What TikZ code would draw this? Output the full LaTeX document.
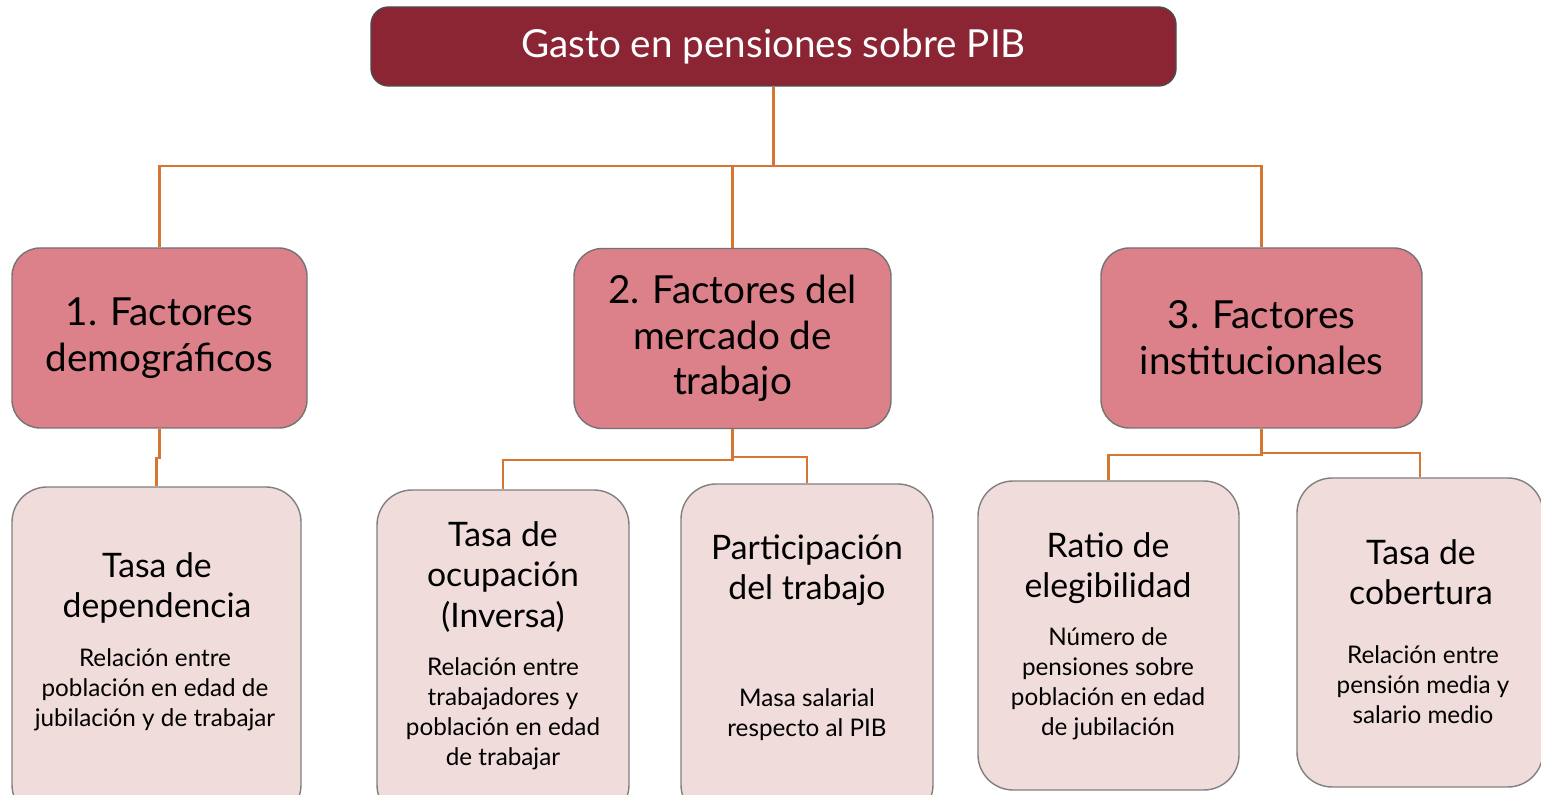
\documentclass[tikz,border=0pt]{standalone}
\usepackage{fontspec}
\setmainfont{Lato}
\usepackage{tikz}
\usepackage{xcolor}
\usetikzlibrary{positioning,calc}

\definecolor{granate}{RGB}{139,37,52}
\definecolor{rosa}{RGB}{220,129,137}
\definecolor{rosaclaro}{RGB}{240,220,218}
\definecolor{naranja}{RGB}{215,118,50}

\begin{document}
\begin{tikzpicture}[
    topbox/.style={rectangle, draw=black!70, fill=granate, text=white, rounded corners=5pt, minimum width=8.05cm, minimum height=0.79cm, font=\fontsize{11}{13}\selectfont},
    factor/.style={rectangle, draw=black!55, fill=rosa, rounded corners=8pt, minimum height=1.8cm, align=center, font=\fontsize{11}{13}\selectfont},
    detalle/.style={rectangle, draw=black!50, fill=rosaclaro, rounded corners=10pt},
    titulo/.style={align=center, font=\fontsize{9.6}{11.4}\selectfont},
    desc/.style={align=center, font=\fontsize{6.9}{8.5}\selectfont},
    link/.style={draw=naranja, line width=0.6pt}
]
\useasboundingbox (0,0) rectangle (15.41,-7.95);

% nivel 1
\node[topbox] (gasto) at (7.735,-0.465) {Gasto en pensiones sobre PIB};

% nivel 2
\node[factor, minimum width=2.95cm] (demo) at (1.595,-3.38) {1. Factores\\demográficos};
\node[factor, minimum width=3.17cm] (mercado) at (7.325,-3.385) {2. Factores del\\mercado de\\trabajo};
\node[factor, minimum width=3.21cm] (inst) at (12.615,-3.38) {3. Factores\\institucionales};

% nivel 3
\node[detalle, minimum width=2.89cm, minimum height=3.33cm] (dep) at (1.565,-6.535) {};
\node[detalle, minimum width=2.52cm, minimum height=3.30cm] (ocup) at (5.03,-6.55) {};
\node[detalle, minimum width=2.52cm, minimum height=3.36cm] (part) at (8.07,-6.52) {};
\node[detalle, minimum width=2.61cm, minimum height=3.09cm] (eleg) at (11.085,-6.355) {};
\node[detalle, minimum width=2.46cm, minimum height=3.09cm] (cober) at (14.2,-6.325) {};

\node[titulo] (depT) at (1.57,-5.88) {Tasa de\\dependencia};
\node[desc] (depD) at (1.55,-6.90) {Relación entre\\población en edad de\\jubilación y de trabajar};
\node[titulo] (ocupT) at (5.03,-5.77) {Tasa de\\ocupación\\(Inversa)};
\node[desc] (ocupD) at (5.03,-7.135) {Relación entre\\trabajadores y\\población en edad\\de trabajar};
\node[titulo] (partT) at (8.07,-5.705) {Participación\\del trabajo};
\node[desc] (partD) at (8.07,-7.145) {Masa salarial\\respecto al PIB};
\node[titulo] (elegT) at (11.08,-5.685) {Ratio de\\elegibilidad};
\node[desc] (elegD) at (11.08,-6.84) {Número de\\pensiones sobre\\población en edad\\de jubilación};
\node[titulo] (coberT) at (14.21,-5.725) {Tasa de\\cobertura};
\node[desc] (coberD) at (14.23,-6.85) {Relación entre\\pensión media y\\salario medio};

% conectores
\coordinate (bus) at (7.735,-1.66);
\draw[link] (gasto.south) -- (bus) -| (demo.north);
\draw[link] (bus) -| (inst.north);
\draw[link] (bus) -| (mercado.north);

\draw[link] (demo.south) -- ++(0,-0.29) -| (dep.north);
\draw[link] (mercado.south) -- ++(0,-0.31) -| (ocup.north);
\draw[link] (mercado.south) -- ++(0,-0.275) -| (part.north);
\draw[link] (inst.south) -- ++(0,-0.26) -| (eleg.north);
\draw[link] (inst.south) -- ++(0,-0.24) -| (cober.north);
\end{tikzpicture}
\end{document}
